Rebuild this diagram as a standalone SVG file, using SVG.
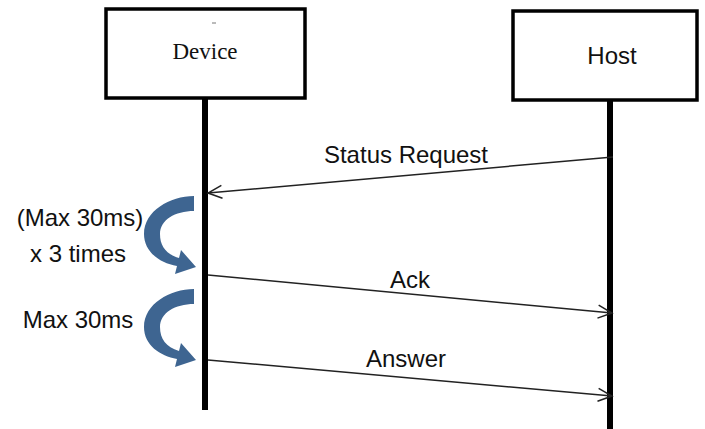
<svg xmlns="http://www.w3.org/2000/svg" width="705" height="429" viewBox="0 0 705 429">
<style>
.box{fill:#fff;stroke:#000;stroke-width:3.5}
.life{fill:#000}
.msg{stroke:#222;stroke-width:1.5;fill:none;marker-end:url(#open)}
.lbl{font-family:"Liberation Sans",Arial,sans-serif;font-size:24px;fill:#111;text-anchor:middle}
.ser{font-family:"Liberation Serif","Times New Roman",serif;font-size:23px;fill:#111;text-anchor:middle}
.curl{fill:#3E6591}
</style>
<defs>
<marker id="open" markerUnits="userSpaceOnUse" markerWidth="18" markerHeight="16" refX="16" refY="8" orient="auto">
<path d="M2,1.5 L16,8 L2,14.5" fill="none" stroke="#222" stroke-width="1.5"/>
</marker>
<path id="curlShape" d="M194,196 C170,196 144,211 144,234 C144,252 160,263 177,266 L175,274 L196,267 L181,250 L179,258 C166,254 160,246 160,234 C160,220 175,211 194,211 Z"/>
</defs>
<g id="device">
<rect class="box" x="106" y="9" width="199" height="89"/>
<line x1="212" y1="23" x2="216" y2="23" stroke="#777" stroke-width="1"/>
<text class="ser" x="205" y="59">Device</text>
<rect class="life" x="202" y="98" width="6" height="312"/>
</g>
<g id="host">
<rect class="box" x="513" y="11" width="184" height="89"/>
<text class="lbl" x="612" y="64">Host</text>
<rect class="life" x="607" y="100" width="6" height="329"/>
</g>
<g id="connectors">
<line class="msg" x1="613" y1="157" x2="208" y2="193"/>
<line class="msg" x1="208" y1="275" x2="612" y2="313"/>
<line class="msg" x1="208" y1="360" x2="612" y2="396"/>
</g>
<g id="labels">
<text class="lbl" x="406" y="163">Status Request</text>
<text class="lbl" x="410" y="288">Ack</text>
<text class="lbl" x="406" y="367">Answer</text>
</g>
<g id="loop1">
<use href="#curlShape" class="curl"/>
<text class="lbl" x="80" y="226">(Max 30ms)</text>
<text class="lbl" x="78" y="262">x 3 times</text>
</g>
<g id="loop2">
<use href="#curlShape" class="curl" transform="translate(0,93)"/>
<text class="lbl" x="78" y="328">Max 30ms</text>
</g>
</svg>
